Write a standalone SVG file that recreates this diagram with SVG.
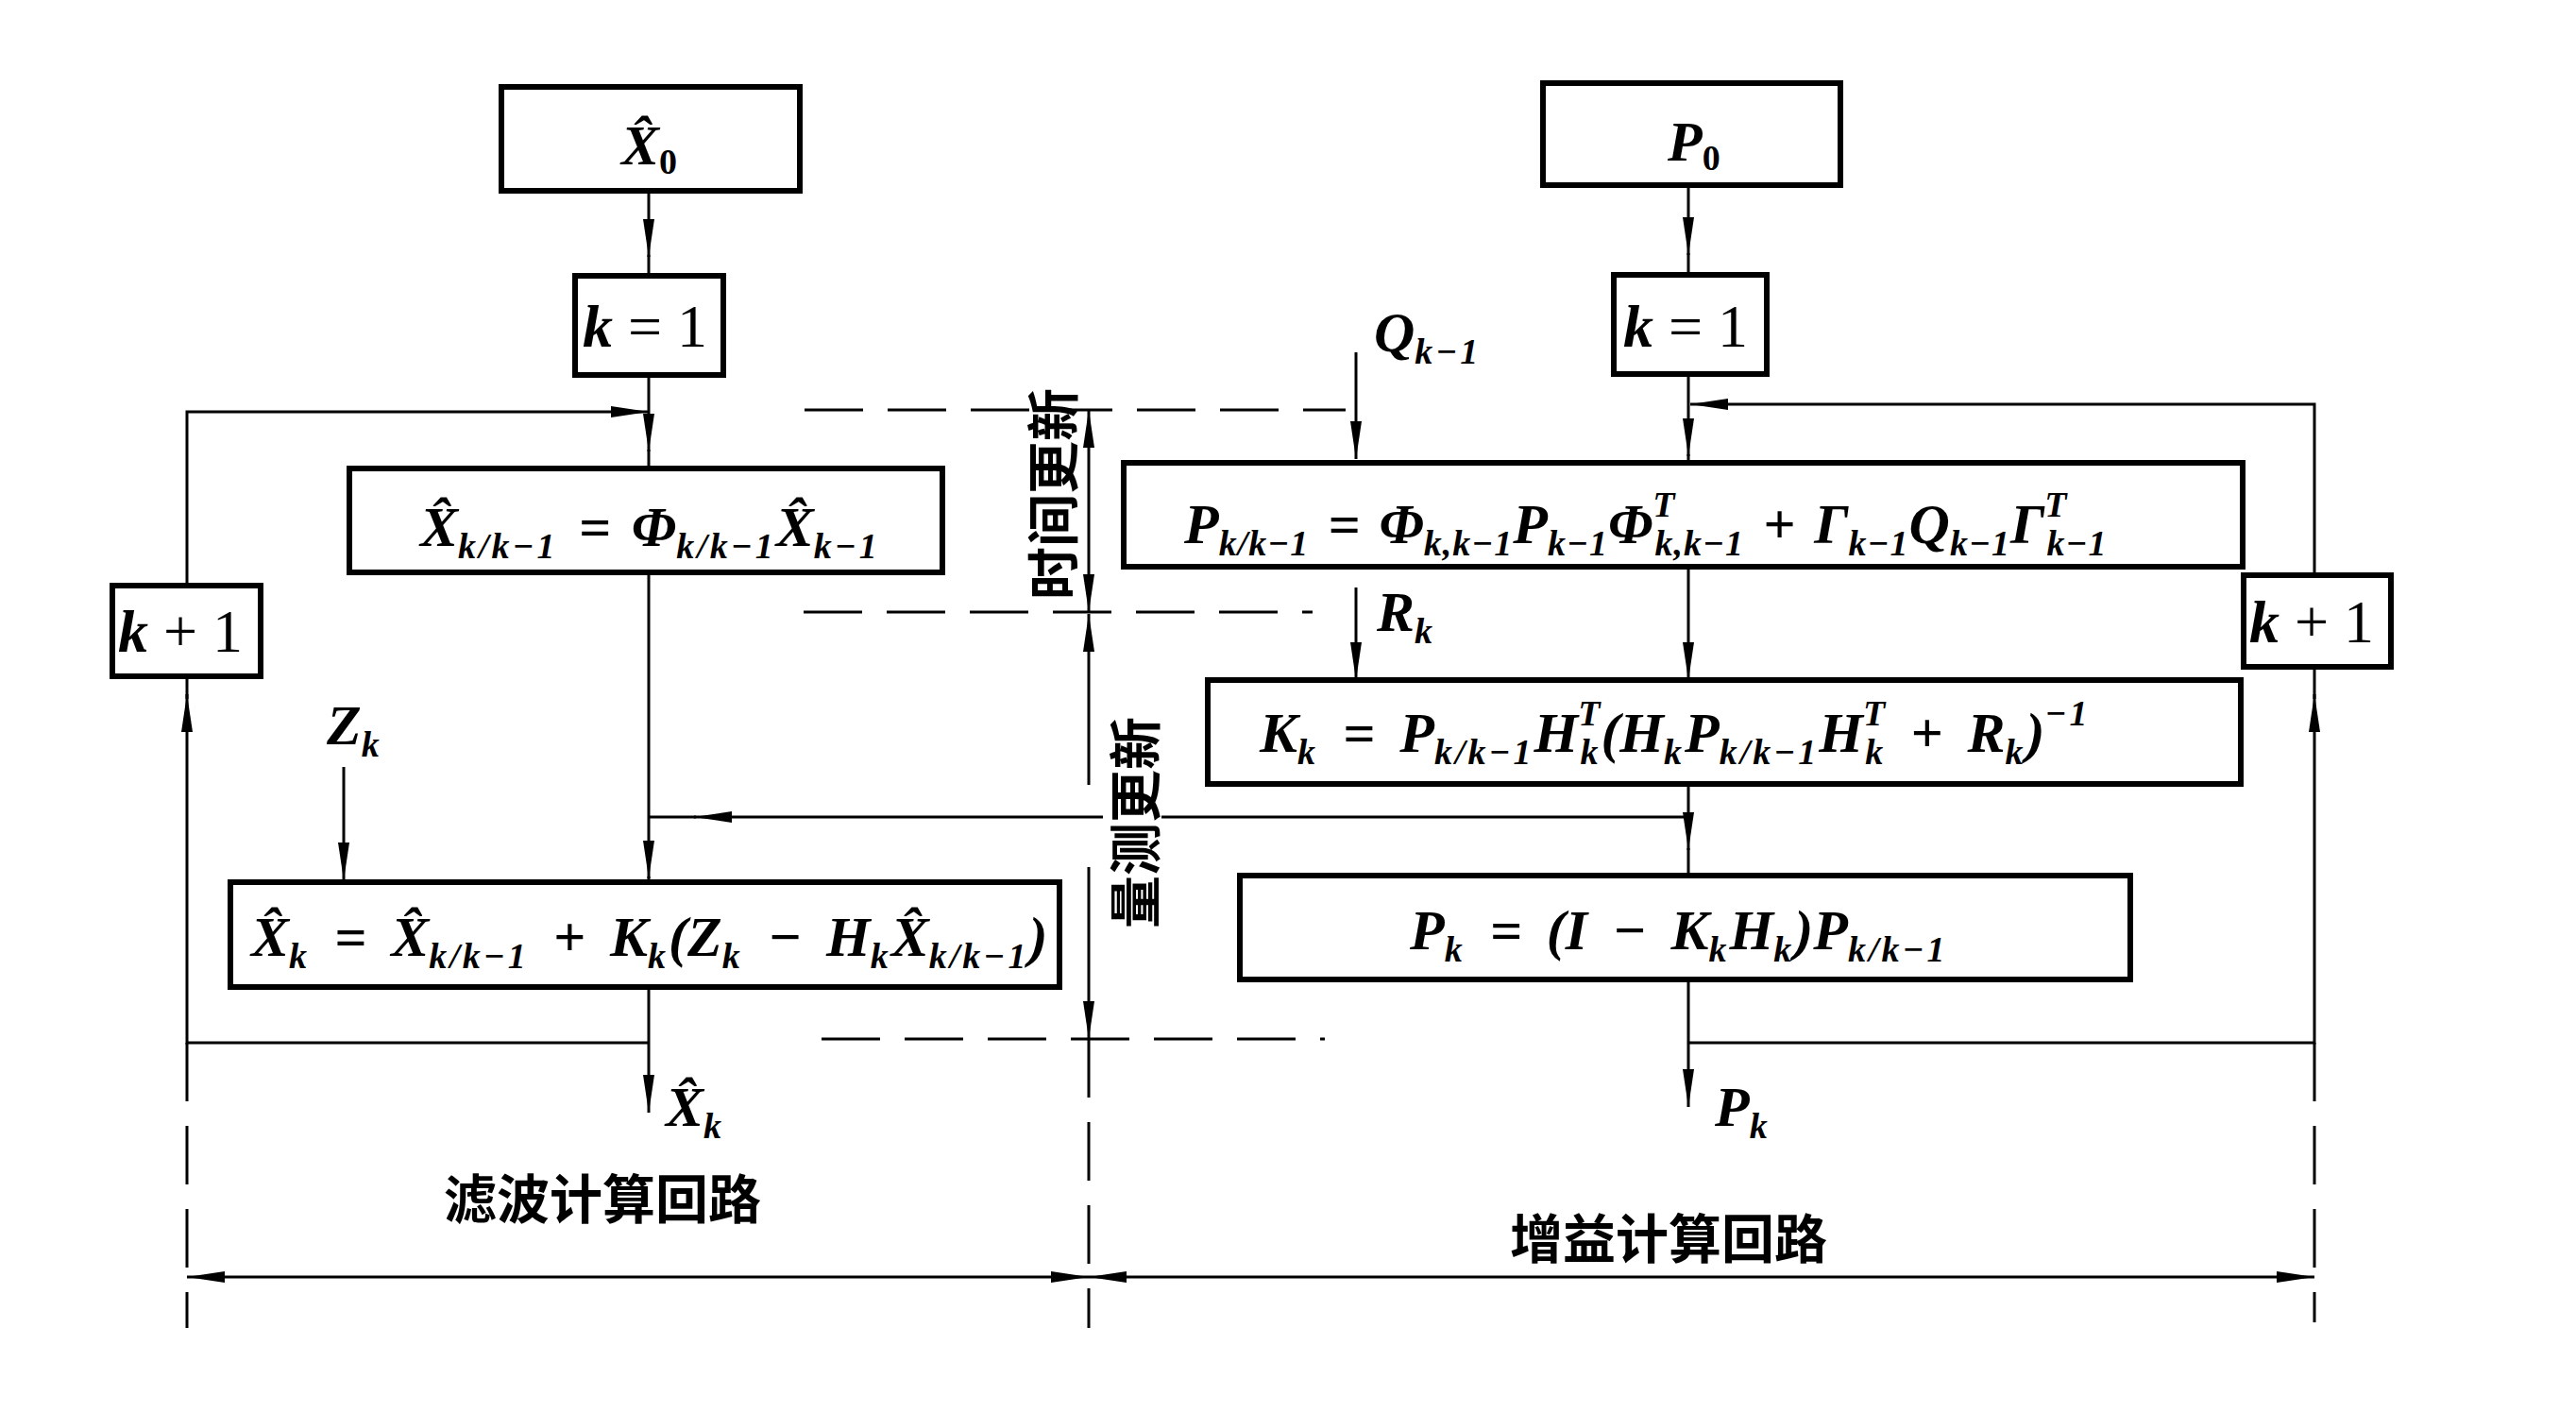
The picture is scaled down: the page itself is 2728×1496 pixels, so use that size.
<svg xmlns="http://www.w3.org/2000/svg" width="2728" height="1496" viewBox="0 0 2728 1496">
<defs>
<marker id="ah" viewBox="0 0 40 14" refX="40" refY="7" markerWidth="40" markerHeight="14" markerUnits="userSpaceOnUse" orient="auto-start-reverse"><path d="M0,1 L40,7 L0,13 z" fill="#000"/></marker>
<style>
.box{fill:#fff;stroke:#000;stroke-width:6}
.ln{fill:none;stroke:#000;stroke-width:3}
.ar{fill:none;stroke:#000;stroke-width:3;marker-end:url(#ah)}
.da{fill:none;stroke:#000;stroke-width:3;marker-start:url(#ah);marker-end:url(#ah)}
.dash{fill:none;stroke:#000;stroke-width:3;stroke-dasharray:62 26}
.m{font-family:"Liberation Serif","DejaVu Serif",serif;font-weight:bold;font-style:italic;font-size:60px;fill:#000}
.s{font-size:38px;letter-spacing:3px}
.t{font-size:38px;letter-spacing:1px}
.n{font-family:"Liberation Serif","DejaVu Serif",serif;font-size:64px;fill:#000}
.cn{font-family:"Noto Sans CJK SC","Noto Sans",sans-serif;font-weight:bold;font-size:56px;fill:#000}
</style>
</defs>
<rect width="2728" height="1496" fill="#fff"/>

<g id="connectors">
<path class="ar" d="M687,202 V272"/><path class="ln" d="M687,270 V292"/>
<path class="ar" d="M687,397 V478"/><path class="ln" d="M687,476 V496"/>
<path class="ar" d="M687,1104 H198 V735"/><path class="ln" d="M198,740 V716"/>
<path class="ar" d="M198,622 V436 H687"/>
<path class="ar" d="M687,605 V930"/><path class="ln" d="M687,928 V934"/>
<path class="ar" d="M364,812 V932"/>
<path class="ln" d="M1788,865 H1230"/><path class="ar" d="M1168,865 H735"/><path class="ln" d="M737,865 H687"/>
<path class="ar" d="M687,1045 V1178"/>
<path class="ar" d="M1788,196 V270"/><path class="ln" d="M1788,268 V289"/>
<path class="ar" d="M1788,396 V483"/><path class="ln" d="M1788,481 V490"/>
<path class="ar" d="M1788,1104 H2451 V735"/><path class="ln" d="M2451,740 V706"/>
<path class="ar" d="M2451,609 V428 H1790"/>
<path class="ar" d="M1436,373 V486"/>
<path class="ar" d="M1788,600 V720"/>
<path class="ar" d="M1436,622 V720"/>
<path class="ar" d="M1788,829 V900"/><path class="ln" d="M1788,898 V927"/>
<path class="ar" d="M1788,1037 V1172"/>
<path class="da" d="M1153,434 V648"/>
<path class="ar" d="M1153,831 V650"/>
<path class="ar" d="M1153,918 V1100"/>
<path class="dash" d="M1153,1100 V1406"/>
<path class="dash" d="M198,1104 V1406"/>
<path class="dash" d="M2451,1104 V1400"/>
<path class="da" d="M198,1352 H1153"/>
<path class="da" d="M1153,1352 H2451"/>
<path class="dash" d="M852,434 H1425"/>
<path class="dash" d="M851,648 H1390"/>
<path class="dash" d="M870,1100 H1403"/>
</g>

<g id="x0"><rect class="box" x="531" y="92" width="316" height="110"/>
<text class="m" x="658" y="174">X̂<tspan class="s" dy="10" font-style="normal">0</tspan></text></g>

<g id="k1-left"><rect class="box" x="609" y="292" width="157" height="105"/>
<text class="n" x="617" y="367"><tspan font-style="italic" font-weight="bold">k</tspan> = 1</text></g>

<g id="xpred"><rect class="box" x="370" y="496" width="628" height="110"/>
<text class="m" x="445" y="578">X̂<tspan class="s" dy="13">k/k−1</tspan><tspan dx="22" dy="-13">=</tspan><tspan dx="22">Φ</tspan><tspan class="s" dy="13">k/k−1</tspan><tspan dy="-13">X̂</tspan><tspan class="s" dy="13">k−1</tspan></text></g>

<g id="k1plus-left"><rect class="box" x="119" y="620" width="157" height="96"/>
<text class="n" x="125" y="690"><tspan font-style="italic" font-weight="bold">k</tspan> + 1</text></g>

<g id="xest"><rect class="box" x="244" y="934" width="878" height="111"/>
<text class="m" x="266" y="1012">X̂<tspan class="s" dy="13">k</tspan><tspan dx="26" dy="-13">=</tspan><tspan dx="26">X̂</tspan><tspan class="s" dy="13">k/k−1</tspan><tspan dx="26" dy="-13">+</tspan><tspan dx="26">K</tspan><tspan class="s" dy="13">k</tspan><tspan dy="-13">(Z</tspan><tspan class="s" dy="13">k</tspan><tspan dx="26" dy="-13">−</tspan><tspan dx="26">H</tspan><tspan class="s" dy="13">k</tspan><tspan dy="-13">X̂</tspan><tspan class="s" dy="13">k/k−1</tspan><tspan dy="-13">)</tspan></text></g>

<g id="p0"><rect class="box" x="1634" y="88" width="315" height="108"/>
<text class="m" x="1766" y="170">P<tspan class="s" dy="10" font-style="normal">0</tspan></text></g>

<g id="k1-right"><rect class="box" x="1709" y="291" width="162" height="105"/>
<text class="n" x="1719" y="367"><tspan font-style="italic" font-weight="bold">k</tspan> = 1</text></g>

<g id="ppred"><rect class="box" x="1190" y="490" width="1185" height="110"/>
<text class="m" x="1254" y="575">P<tspan class="t" dy="13">k/k−1</tspan><tspan dx="20" dy="-13">=</tspan><tspan dx="20">Φ</tspan><tspan class="t" dy="13">k,k−1</tspan><tspan dy="-13">P</tspan><tspan class="t" dy="13">k−1</tspan><tspan dy="-13">Φ</tspan><tspan class="t" dy="-28">T</tspan><tspan class="t" dx="-22" dy="41">k,k−1</tspan><tspan dx="20" dy="-13">+</tspan><tspan dx="20">Γ</tspan><tspan class="t" dy="13">k−1</tspan><tspan dy="-13">Q</tspan><tspan class="t" dy="13">k−1</tspan><tspan dy="-13">Γ</tspan><tspan class="t" dy="-28">T</tspan><tspan class="t" dx="-22" dy="41">k−1</tspan></text></g>

<g id="k1plus-right"><rect class="box" x="2376" y="609" width="156" height="97"/>
<text class="n" x="2382" y="680"><tspan font-style="italic" font-weight="bold">k</tspan> + 1</text></g>

<g id="gain"><rect class="box" x="1279" y="720" width="1094" height="110"/>
<text class="m" x="1334" y="796">K<tspan class="s" dy="13">k</tspan><tspan dx="26" dy="-13">=</tspan><tspan dx="26">P</tspan><tspan class="s" dy="13">k/k−1</tspan><tspan dy="-13">H</tspan><tspan class="s" dy="-28">T</tspan><tspan class="s" dx="-24" dy="41">k</tspan><tspan dy="-13">(H</tspan><tspan class="s" dy="13">k</tspan><tspan dy="-13">P</tspan><tspan class="s" dy="13">k/k−1</tspan><tspan dy="-13">H</tspan><tspan class="s" dy="-28">T</tspan><tspan class="s" dx="-24" dy="41">k</tspan><tspan dx="26" dy="-13">+</tspan><tspan dx="26">R</tspan><tspan class="s" dy="13">k</tspan><tspan dy="-13">)</tspan><tspan class="s" dy="-28">−1</tspan></text></g>

<g id="pest"><rect class="box" x="1313" y="927" width="943" height="110"/>
<text class="m" x="1493" y="1005">P<tspan class="s" dy="13">k</tspan><tspan dx="26" dy="-13">=</tspan><tspan dx="26">(I</tspan><tspan dx="26">−</tspan><tspan dx="26">K</tspan><tspan class="s" dy="13">k</tspan><tspan dy="-13">H</tspan><tspan class="s" dy="13">k</tspan><tspan dy="-13">)P</tspan><tspan class="s" dy="13">k/k−1</tspan></text></g>

<g id="labels">
<text class="m" x="1455" y="372">Q<tspan class="s" dy="13">k−1</tspan></text>
<text class="m" x="1458" y="668">R<tspan class="s" dy="13">k</tspan></text>
<text class="m" x="346" y="788">Z<tspan class="s" dy="13">k</tspan></text>
<text class="m" x="705" y="1192">X̂<tspan class="s" dy="13">k</tspan></text>
<text class="m" x="1816" y="1192">P<tspan class="s" dy="13">k</tspan></text>
<text class="cn" transform="translate(1111,523) rotate(-90)" text-anchor="middle" dominant-baseline="central" font-size="52">时间更新</text>
<text class="cn" transform="translate(1198,871) rotate(-90)" text-anchor="middle" dominant-baseline="central" font-size="54">量测更新</text>
<text class="cn" x="470" y="1290">滤波计算回路</text>
<text class="cn" x="1599" y="1332">增益计算回路</text>
</g>
</svg>
